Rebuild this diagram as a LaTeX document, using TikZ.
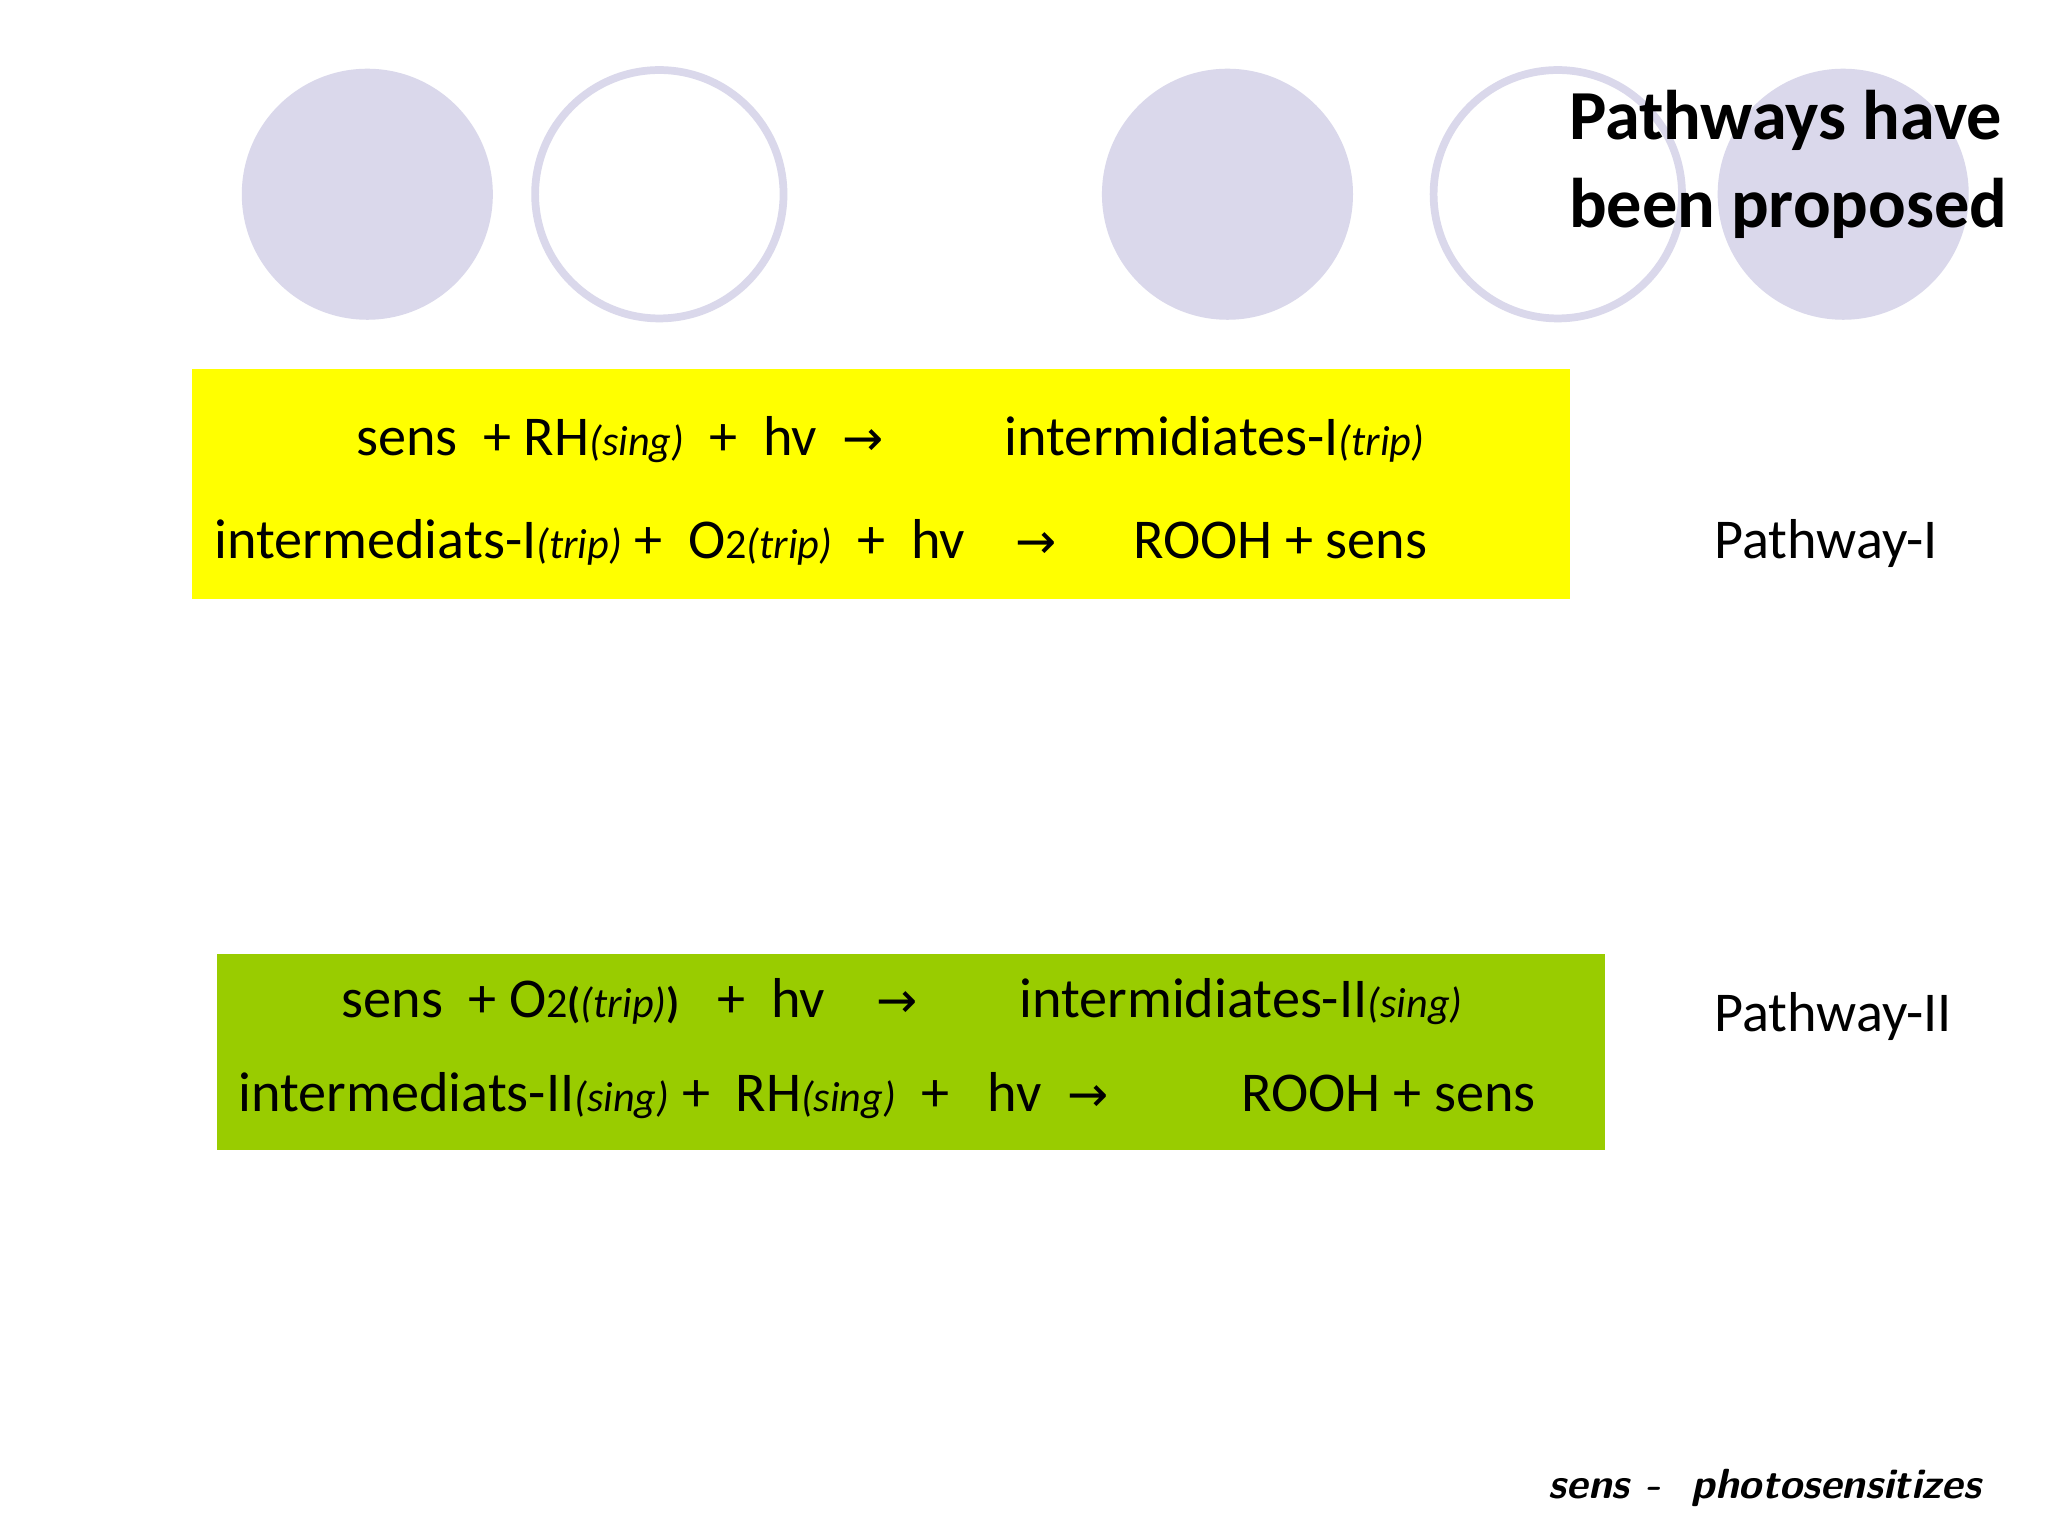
\documentclass[tikz,border=0pt]{standalone}
\usepackage{fontspec}
\setmainfont{Carlito}
\newfontfamily\arr{DejaVu Sans}
\definecolor{lav}{HTML}{DAD8EB}
\definecolor{ylw}{HTML}{FFFF00}
\definecolor{grn}{HTML}{99CC00}
\tikzset{fill circ/.style={fill=lav,draw=none},
ring/.style={draw=lav,line width=2.2pt,fill=white},
eq/.style={anchor=base west,inner sep=0pt,font=\fontsize{16}{19}\selectfont},
lbl/.style={anchor=base west,inner sep=0pt,font=\fontsize{16}{19}\selectfont}}
\newcommand{\ar}{{\arr\fontsize{14}{16}\selectfont →}}
\newcommand{\sm}[1]{{\itshape\fontsize{12}{14}\selectfont #1}}
\begin{document}
\begin{tikzpicture}[x=0.013213cm,y=-0.013213cm]
\useasboundingbox (0,0) rectangle (1550,1163);
\fill[white] (0,0) rectangle (1550,1163);
\fill[fill circ] (278,147) circle (95);
\draw[ring] (499,147) circle (94);
\fill[fill circ] (929,147) circle (95);
\draw[ring] (1179,147) circle (94);
\fill[fill circ] (1395,147) circle (95);
\node[anchor=north west,align=left,inner sep=0pt,font=\bfseries\fontsize{20}{25}\selectfont] (title) at (1187,68) {Pathways have\\been proposed};
\fill[ylw] (145,279) rectangle (1188,453);
\fill[grn] (164,722) rectangle (1215,870);
\node[eq] (a1) at (269,345) {sens\ \ + RH\sm{(sing)}\ \ +\ \ hv\ \ \ar};
\node[eq] (a2) at (760,345) {intermidiates-I\sm{(trip)}};
\node[eq] (b1) at (162,423) {intermediats-I\sm{(trip)} +\ \ O\sm{\upshape 2}\sm{(trip)}\ \ +\ \ hv};
\node[eq] (b2) at (768,423) {\ar};
\node[eq] (b3) at (857,423) {ROOH + sens};
\node[lbl] (p1) at (1297,423) {Pathway-I};
\node[eq] (c1) at (258,770) {sens\ \ + O\sm{\upshape 2}{\fontsize{12}{14}\selectfont\bfseries(}\sm{(trip)}{\fontsize{12}{14}\selectfont\bfseries)}\ \ \ +\ \ hv\ \ \ \ \ar};
\node[eq] (c2) at (771,770) {intermidiates-II\sm{(sing)}};
\node[eq] (d1) at (180,841) {intermediats-II\sm{(sing)} +\ \ RH\sm{(sing)}\ \ +\ \ \ hv\ \ \ar};
\node[eq] (d2) at (939,841) {ROOH + sens};
\node[lbl] (p2) at (1297,781) {Pathway-II};
\node[anchor=base east,inner sep=0pt,font=\sffamily\bfseries\itshape\fontsize{12}{14}\selectfont] (note) at (1500,1134) {sens -\ \ photosensitizes};
\end{tikzpicture}
\end{document}
